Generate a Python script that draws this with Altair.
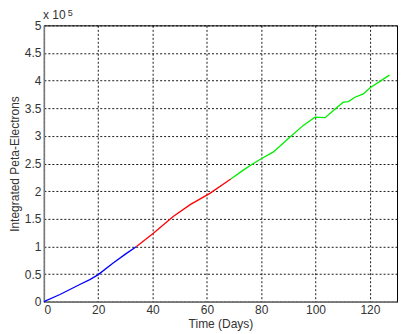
import altair as alt
import pandas as pd

blue_days = [0, 5.9, 13.2, 16.9, 20, 25.5, 30, 34.1]
blue_vals = [0, 0.13e5, 0.31e5, 0.40e5, 0.49e5, 0.70e5, 0.86e5, 1.0e5]

red_days = [34.1, 40.3, 47.6, 54, 61.1, 68.8]
red_vals = [1.0e5, 1.24e5, 1.54e5, 1.76e5, 1.96e5, 2.22e5]

green_days = [68.8, 73.4, 77.1, 80.2, 84.5, 90.6, 95.5, 99.8, 103.5, 106.6,
              110.2, 112.1, 114.5, 117.6, 120.1, 127.2]
green_vals = [2.22e5, 2.38e5, 2.50e5, 2.59e5, 2.71e5, 2.98e5, 3.19e5, 3.34e5,
              3.33e5, 3.46e5, 3.61e5, 3.62e5, 3.70e5, 3.76e5, 3.87e5, 4.10e5]

x_ticks = [0, 20, 40, 60, 80, 100, 120]
y_ticks = [0, 50000, 100000, 150000, 200000, 250000, 300000, 350000, 400000, 450000, 500000]

rows = []
for name, ds, vs in [("blue", blue_days, blue_vals), ("red", red_days, red_vals), ("green", green_days, green_vals)]:
    for i, (d, v) in enumerate(zip(ds, vs)):
        rows.append({"seg": name, "day": d, "val": v, "order": i})
df = pd.DataFrame(rows)

W, H = 354, 277
FONT = "Liberation Sans"

base = alt.Chart(df)
lines = base.mark_line(strokeWidth=1.3).encode(
    x=alt.X("day:Q", scale=alt.Scale(domain=[0, 130], nice=False, zero=False),
            axis=alt.Axis(values=x_ticks, title="Time (Days)", grid=True,
                          gridDash=[2, 2], gridColor="#000000", gridOpacity=0.9,
                          domainColor="#777777", domainWidth=1.5,
                          ticks=False, labelPadding=3, titlePadding=3,
                          labelFontSize=12, titleFontSize=12, titleFontWeight="normal",
                          labelColor="#333333", titleColor="#333333",
                          labelFont=FONT, titleFont=FONT)),
    y=alt.Y("val:Q", scale=alt.Scale(domain=[0, 500000], nice=False),
            axis=alt.Axis(values=y_ticks, title="Integrated Peta-Electrons", grid=True,
                          labelExpr="datum.value / 100000",
                          gridDash=[2, 2], gridColor="#000000", gridOpacity=0.9,
                          domainColor="#777777", domainWidth=1.5,
                          ticks=False, labelPadding=3, titlePadding=3,
                          labelFontSize=12, titleFontSize=12, titleFontWeight="normal",
                          labelColor="#333333", titleColor="#333333",
                          labelFont=FONT, titleFont=FONT)),
    color=alt.Color("seg:N", scale=alt.Scale(domain=["blue", "red", "green"],
                                              range=["#0000ff", "#ff0000", "#00ee00"]),
                    legend=None),
    order="order:Q",
    detail="seg:N",
)

mult = alt.Chart(pd.DataFrame({"t": ["x 10"]})).mark_text(
    align="left", baseline="alphabetic", fontSize=12, font=FONT, color="#333333"
).encode(text="t:N", x=alt.value(-1), y=alt.value(-6))

expo = alt.Chart(pd.DataFrame({"t": ["5"]})).mark_text(
    align="left", baseline="alphabetic", fontSize=9, font=FONT, color="#333333"
).encode(text="t:N", x=alt.value(24), y=alt.value(-9))

chart = alt.layer(lines, mult, expo).properties(
    width=W, height=H,
    autosize=alt.AutoSizeParams(type="none"),
    padding={"left": 36, "top": 17, "right": 10, "bottom": 30},
    background="#ffffff",
).configure_view(stroke="#000000", strokeWidth=1)

chart.save("out.html", embed_options={"renderer": "svg", "actions": False})
